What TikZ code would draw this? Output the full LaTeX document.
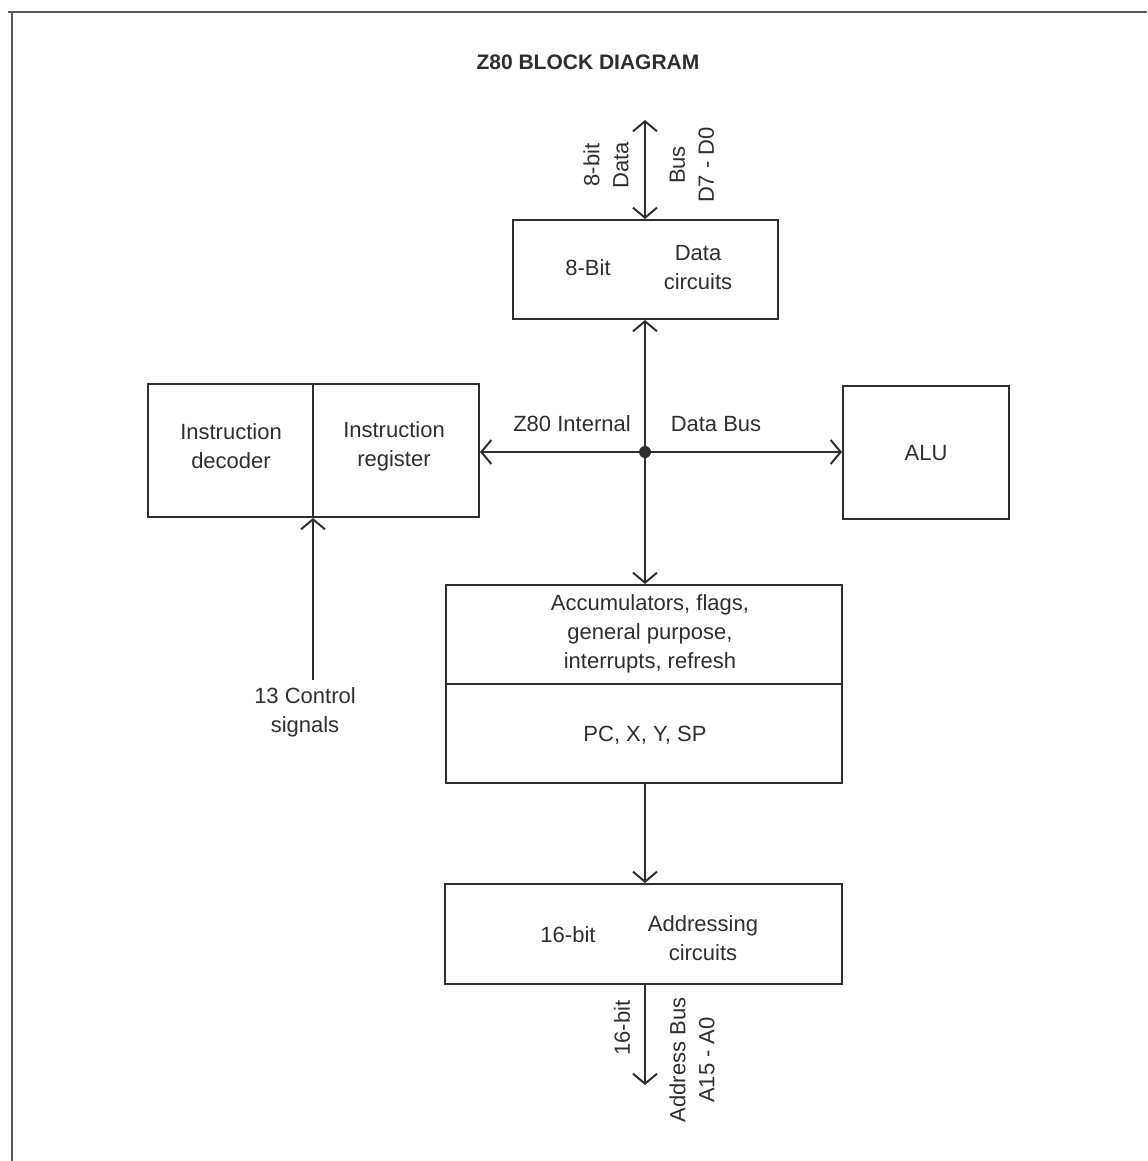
\documentclass[tikz,border=0pt]{standalone}
\usepackage{fontspec}
\setmainfont{Liberation Sans}
\usetikzlibrary{arrows.meta}
\definecolor{ink}{HTML}{2E2E2E}
\begin{document}
\begin{tikzpicture}[x=0.5pt,y=-0.5pt,
  box/.style={draw=ink,line width=1pt,inner sep=0pt},
  txt/.style={text=ink,font=\fontsize{11}{14.5}\selectfont,align=center,inner sep=0pt},
  vtxt/.style={txt,rotate=90},
  conn/.style={draw=ink,line width=1pt,arrows={-Straight Barb[length=5pt,width=12pt]}},
  conn2/.style={draw=ink,line width=1pt,arrows={Straight Barb[length=5pt,width=12pt]-Straight Barb[length=5pt,width=12pt]}},
  frame/.style={draw=ink!80,line width=1.3pt}]
\useasboundingbox (0,0) rectangle (1147,1161);
% frame
\coordinate (fa) at (8,12);
\coordinate (fb) at (1147,12);
\coordinate (fc) at (12,12);
\coordinate (fd) at (12,1161);
\draw[frame] (fa) -- (fb);
\draw[frame] (fc) -- (fd);
% title
\node[txt,font=\bfseries\fontsize{10.5}{12}\selectfont] (title) at (588,62) {Z80 BLOCK DIAGRAM};
% data circuits
\node[box,minimum width=132.5pt,minimum height=49.5pt] (data) at (645.5,269.5) {};
\node[txt] (data8) at (588,268) {8-Bit};
\node[txt] (datat) at (698,268) {Data\\circuits};
% instruction
\node[box,minimum width=82.5pt,minimum height=66.5pt] (idec) at (230.5,450.5) {};
\node[box,minimum width=83pt,minimum height=66.5pt] (ireg) at (396,450.5) {};
\node[txt] (idect) at (231,446) {Instruction\\decoder};
\node[txt] (iregt) at (394,446) {Instruction\\register};
% ALU
\node[box,minimum width=83pt,minimum height=66.5pt] (alu) at (926,452.5) {};
\node[txt] (alut) at (926,453) {ALU};
% accumulators
\node[box,minimum width=198pt,minimum height=49.5pt] (acc) at (644,634.5) {};
\node[box,minimum width=198pt,minimum height=49.5pt] (pc) at (644,733.5) {};
\node[txt] (acct) at (650,634) {Accumulators, flags,\\general purpose,\\interrupts, refresh};
\node[txt] (pct) at (645,735) {PC, X, Y, SP};
% addressing
\node[box,minimum width=198.5pt,minimum height=50pt] (addr) at (643.5,934) {};
\node[txt] (addr16) at (568,935) {16-bit};
\node[txt] (addrt) at (703,938) {Addressing\\circuits};
% bus junction
\node[circle,fill=ink,inner sep=0pt,minimum size=6pt] (bus) at (645,452) {};
\node[txt] (busl) at (572,424) {Z80 Internal};
\node[txt] (busr) at (716,424) {Data Bus};
% top data bus
\coordinate (dtop) at (645,120);
\draw[conn2] (dtop) -- (dtop |- data.north);
\node[vtxt] (dlab) at (606,165) {8-bit\\Data};
\node[vtxt] (dlab2) at (692,165) {Bus\\D7 - D0};
% internal bus
\draw[conn2] (data.south -| bus) -- (acc.north -| bus);
\draw[conn] (bus) -- (bus -| ireg.east);
\draw[conn] (bus) -- (bus -| alu.west);
% control signals
\coordinate (ctl) at (313,680);
\draw[conn] (ctl) -- (ctl |- idec.south);
\node[txt] (ctlt) at (305,712) {13 Control\\signals};
% to addressing
\draw[conn] (pc.south -| bus) -- (addr.north -| bus);
% address bus
\coordinate (abot) at (645,1085);
\draw[conn] (addr.south -| bus) -- (abot);
\node[vtxt] (alab) at (622,1028) {16-bit};
\node[vtxt] (alab2) at (692,1060) {Address Bus\\A15 - A0};
\end{tikzpicture}
\end{document}
